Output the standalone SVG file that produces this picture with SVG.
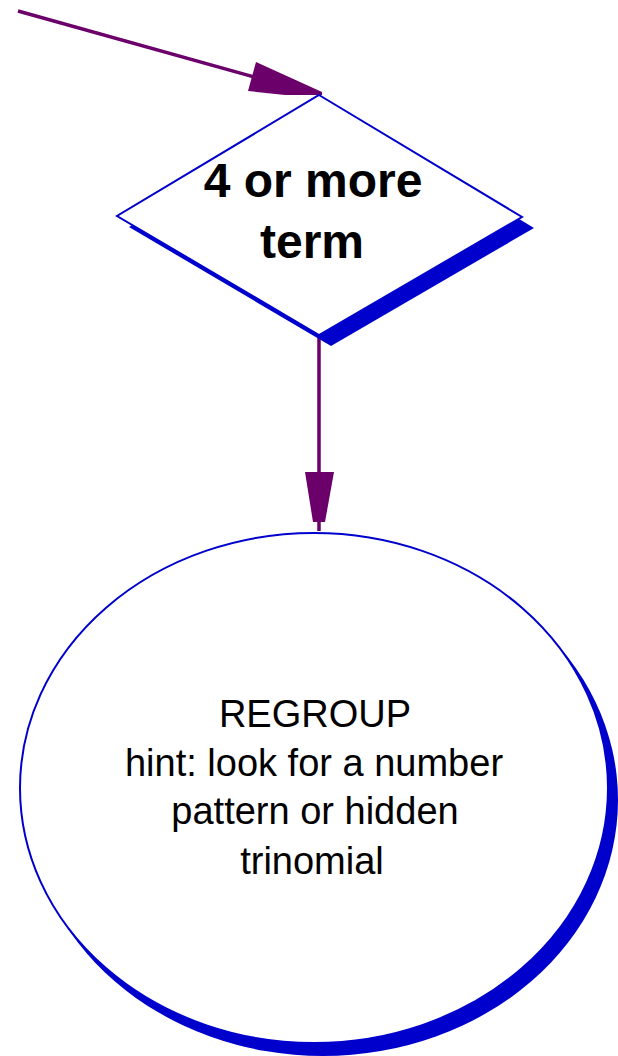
<svg xmlns="http://www.w3.org/2000/svg" width="618" height="1056" viewBox="0 0 618 1056">
<defs>
<style>
.shape{fill:#ffffff;stroke:#0000cd;stroke-width:2}
.shadow{fill:#0000cd;stroke:none}
.conn{stroke:#6b006b;stroke-width:3.5;fill:none}
.head{fill:#6b006b;stroke:none}
.dtext{font-family:"Liberation Sans",Arial,sans-serif;font-weight:bold;font-size:48px;fill:#000;text-anchor:middle}
.etext{font-family:"Liberation Sans",Arial,sans-serif;font-size:38px;fill:#000;text-anchor:middle}
</style>
</defs>
<rect width="618" height="1056" fill="#ffffff"/>
<g id="connectors">
<line class="conn" x1="18" y1="11" x2="290" y2="87"/>
<polygon class="head" points="256,62 322,92 322,95 285,95 248,91"/>
<line class="conn" x1="319" y1="335" x2="319" y2="531"/>
<polygon class="head" points="305,472 334,472 325,522 313,522"/>
</g>
<g id="node-decision">
<polygon class="shadow" points="331,106 534,228 331,346 129,227"/>
<polygon class="shape" points="319,95 522,217 319,335 117,216"/>
<text class="dtext" x="313" y="197">4 or more</text>
<text class="dtext" x="312" y="258">term</text>
</g>
<g id="node-regroup">
<ellipse class="shadow" cx="323" cy="800" rx="295" ry="256"/>
<ellipse class="shape" cx="314" cy="788" rx="294" ry="255"/>
<text class="etext" x="315" y="727">REGROUP</text>
<text class="etext" x="314" y="776">hint: look for a number</text>
<text class="etext" x="315" y="824">pattern or hidden</text>
<text class="etext" x="312" y="874">trinomial</text>
</g>
</svg>
